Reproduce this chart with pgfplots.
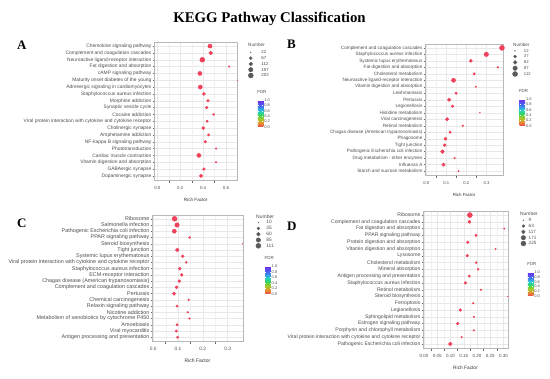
\documentclass[border=0pt]{standalone}
\usepackage{fontspec}
\setmainfont{Liberation Sans}
\newfontfamily\serifbold{Liberation Serif}
\usepackage{pgfplots}
\pgfplotsset{compat=1.18}
\usepackage{pgfplotstable}

\definecolor{ptred}{RGB}{240,65,90}
\definecolor{legdark}{RGB}{90,90,90}
\definecolor{tickgray}{RGB}{77,77,77}
\definecolor{gridgray}{RGB}{232,232,232}
\newcommand{\fs}[1]{\fontsize{#1}{#1}\selectfont}

\pgfplotstableread[col sep=comma]{
idx,rf,num,name
1,0.460,137,Chemokine signaling pathway
2,0.466,114,Complement and coagulation cascades
3,0.393,202,Neuroactive ligand-receptor interaction
4,0.627,30,Fat digestion and absorption
5,0.372,137,cAMP signaling pathway
6,0.700,22,Maturity onset diabetes of the young
7,0.375,137,Adrenergic signaling in cardiomyocytes
8,0.407,76,Staphylococcus aureus infection
9,0.442,61,Morphine addiction
10,0.431,61,Synaptic vesicle cycle
11,0.492,38,Cocaine addiction
12,0.434,49,Viral protein interaction with cytokine and cytokine receptor
13,0.401,76,Cholinergic synapse
14,0.448,49,Amphetamine addiction
15,0.419,61,NF-kappa B signaling pathway
16,0.513,30,Phototransduction
17,0.363,137,Cardiac muscle contraction
18,0.513,30,Vitamin digestion and absorption
19,0.407,61,GABAergic synapse
20,0.381,95,Dopaminergic synapse
}\dataA

\pgfplotstableread[col sep=comma]{
idx,rf,num,name
1,0.377,112,Complement and coagulation cascades
2,0.299,90,Staphylococcus aureus infection
3,0.222,42,Systemic lupus erythematosus
4,0.356,17,Fat digestion and absorption
5,0.239,27,Cholesterol metabolism
6,0.136,76,Neuroactive ligand-receptor interaction
7,0.247,14,Vitamin digestion and absorption
8,0.149,27,Leishmaniasis
9,0.114,52,Pertussis
10,0.131,34,Legionellosis
11,0.267,12,Histidine metabolism
12,0.104,52,Viral carcinogenesis
13,0.182,17,Retinol metabolism
14,0.119,27,Chagas disease (American trypanosomiasis)
15,0.096,42,Phagosome
16,0.092,42,Tight junction
17,0.081,63,Pathogenic Escherichia coli infection
18,0.141,17,Drug metabolism - other enzymes
19,0.086,52,Influenza A
20,0.161,14,Starch and sucrose metabolism
}\dataB

\pgfplotstableread[col sep=comma]{
idx,rf,num,name
1,0.086,111,Ribosome
2,0.096,89,Salmonella infection
3,0.085,75,Pathogenic Escherichia coli infection
4,0.147,19,PPAR signaling pathway
5,0.360,10,Steroid biosynthesis
6,0.097,62,Tight junction
7,0.119,32,Systemic lupus erythematosus
8,0.133,19,Viral protein interaction with cytokine and cytokine receptor
9,0.107,40,Staphylococcus aureus infection
10,0.115,32,ECM-receptor interaction
11,0.105,32,Chagas disease (American trypanosomiasis)
12,0.094,40,Complement and coagulation cascades
13,0.084,50,Pertussis
14,0.143,15,Chemical carcinogenesis
15,0.096,25,Relaxin signaling pathway
16,0.139,15,Nicotine addiction
17,0.146,15,Metabolism of xenobiotics by cytochrome P450
18,0.096,25,Amoebiasis
19,0.093,25,Viral myocarditis
20,0.098,25,Antigen processing and presentation
}\dataC

\pgfplotstableread[col sep=comma]{
idx,rf,num,name
1,0.173,225,Ribosome
2,0.171,74,Complement and coagulation cascades
3,0.303,13,Fat digestion and absorption
4,0.196,41,PPAR signaling pathway
5,0.165,57,Protein digestion and absorption
6,0.270,13,Vitamin digestion and absorption
7,0.163,57,Lysosome
8,0.197,28,Cholesterol metabolism
9,0.204,28,Mineral absorption
10,0.171,41,Antigen processing and presentation
11,0.156,57,Staphylococcus aureus infection
12,0.215,19,Retinol metabolism
13,0.316,9,Steroid biosynthesis
14,0.186,19,Ferroptosis
15,0.137,57,Legionellosis
16,0.188,19,Sphingolipid metabolism
17,0.127,57,Estrogen signaling pathway
18,0.188,19,Porphyrin and chlorophyll metabolism
19,0.142,19,Viral protein interaction with cytokine and cytokine receptor
20,0.099,119,Pathogenic Escherichia coli infection
}\dataD

\pgfplotsset{
  colormap={fdrbase}{rgb255(0)=(240,70,80) rgb255(0.15)=(225,150,45) rgb255(0.3)=(160,205,40) rgb255(0.45)=(50,215,90) rgb255(0.6)=(40,205,215) rgb255(0.8)=(70,100,240) rgb255(1)=(115,45,230)},
  colormap={fdr}{samples of colormap={60 of fdrbase}},
  kegg/.style={
    scale only axis, anchor=north west,
    colorbar, colormap name=fdr,
    y dir=reverse, ymin=0.4, ymax=20.6, ytick={1,...,20},
    grid=major, minor x tick num=1, xminorgrids=true,
    major grid style={gridgray, line width=0.35pt},
    minor grid style={gridgray!55, line width=0.25pt},
    axis line style={draw=black!28, line width=0.45pt},
    tick align=outside, xtick pos=bottom, ytick pos=left,
    major tick length=1.4pt, tick style={black!60, line width=0.3pt},
    point meta min=0, point meta max=1,
    legend cell align=left,
    legend style={anchor=north west, draw=none, fill=none, inner sep=0pt, row sep=0pt,
      nodes={inner sep=0.3pt, text height=4pt, text depth=1.2pt, text=tickgray}},
    xlabel={Rich Factor},
    xlabel style={at={(axis description cs:0.5,0)}, anchor=center, yshift=-19.5pt, text=black!80},
    xticklabel style={text=tickgray, inner sep=1pt, yshift=-3.8pt, /pgf/number format/fixed, /pgf/number format/fixed zerofill, /pgf/number format/precision=1, /pgf/number format/assume math mode=true},
    yticklabel style={text=tickgray, inner sep=1pt},
    colorbar style={at={(parent axis.north east)}, anchor=north west, width=5.5pt, scale only axis,
      ytick={0,0.2,0.4,0.6,0.8,1},
      yticklabel style={font=\fs{4}, text=tickgray, inner sep=0.8pt, /pgf/number format/fixed, /pgf/number format/fixed zerofill, /pgf/number format/precision=1, /pgf/number format/assume math mode=true},
      major tick length=1.2pt, tick align=inside, tick style={white, line width=0.3pt},
      axis line style={draw=none},
      title={FDR}, title style={font=\fs{4.4}, text=tickgray, at={(0,1)}, anchor=south west, inner sep=0.3pt, xshift=-1pt}},
  },
  legdot/.style 2 args={only marks, mark=*, legdark, mark size=#1,
    legend image code/.code={\path (0pt,0pt) (#2,0pt);\draw[mark repeat=2,mark phase=2,##1] plot coordinates {(0pt,0pt) (3.5pt,0pt) (#2,0pt)};}},
  pts/.style={forget plot, only marks, mark=*, ptred, scatter, point meta=0,
    scatter/use mapped color={draw=ptred, fill=ptred}}
}

\begin{document}
\begin{tikzpicture}
\useasboundingbox (0,0) rectangle (550pt,379pt);
\node[anchor=base, font=\serifbold\bfseries\fs{14.8}] at (269.5pt,356.3pt) {KEGG Pathway Classification};
\node[anchor=base west, inner sep=0pt, font=\serifbold\bfseries\fs{13}] at (17pt,329pt) {A};
\node[anchor=base west, inner sep=0pt, font=\serifbold\bfseries\fs{13}] at (287pt,330pt) {B};
\node[anchor=base west, inner sep=0pt, font=\serifbold\bfseries\fs{13}] at (17pt,151pt) {C};
\node[anchor=base west, inner sep=0pt, font=\serifbold\bfseries\fs{13}] at (287pt,148pt) {D};

\node[anchor=west, inner sep=0pt, text=tickgray, font=\fs{4.7}] at (248pt,334pt) {Number};
\node[anchor=west, inner sep=0pt, text=tickgray, font=\fs{4.6}] at (513pt,334pt) {Number};
\node[anchor=west, inner sep=0pt, text=tickgray, font=\fs{5}] at (256pt,162.3pt) {Number};
\node[anchor=west, inner sep=0pt, text=tickgray, font=\fs{4.9}] at (520pt,165pt) {Number};

% Panel A
\begin{axis}[kegg, at={(154pt,337pt)}, width=83.5pt, height=138pt,
  xmin=-0.029, xmax=0.70, xtick={0,0.2,0.4,0.6},
  yticklabels from table={\dataA}{name},
  yticklabel style={font=\fs{4.9}}, xticklabel style={font=\fs{4.4}}, xlabel style={font=\fs{4.6}},
  legend style={at={(1.1126,0.9478)}, font=\fs{4.4}},
  colorbar style={xshift=11.8pt, yshift=-58.3pt, height=26.4pt}]
\addplot[pts, visualization depends on={0.4+2.1*sqrt(max(\thisrow{num}-22,0)/180) \as \msize},
  scatter/@pre marker code/.append style={/tikz/mark size=\msize}] table[x=rf, y=idx] {\dataA};
\addlegendimage{legdot={0.4}{13.6pt}}\addlegendentry{22}
\addlegendimage{legdot={0.4+2.1*sqrt(45/180)}{13.6pt}}\addlegendentry{67}
\addlegendimage{legdot={0.4+2.1*sqrt(90/180)}{13.6pt}}\addlegendentry{112}
\addlegendimage{legdot={0.4+2.1*sqrt(135/180)}{13.6pt}}\addlegendentry{157}
\addlegendimage{legdot={2.5}{13.6pt}}\addlegendentry{202}
\end{axis}

% Panel B
\begin{axis}[kegg, at={(425pt,335pt)}, width=78pt, height=131pt,
  xmin=-0.006, xmax=0.382, xtick={0,0.1,0.2,0.3},
  yticklabels from table={\dataB}{name},
  yticklabel style={font=\fs{4.65}}, xticklabel style={font=\fs{4.2}}, xlabel style={font=\fs{4.4}},
  legend style={at={(1.105,0.9718)}, font=\fs{4.2}},
  colorbar style={xshift=8pt, yshift=-55pt, height=26.7pt}]
\addplot[pts, visualization depends on={0.4+2.1*sqrt(max(\thisrow{num}-12,0)/100) \as \msize},
  scatter/@pre marker code/.append style={/tikz/mark size=\msize}] table[x=rf, y=idx] {\dataB};
\addlegendimage{legdot={0.4}{11.9pt}}\addlegendentry{12}
\addlegendimage{legdot={0.4+2.1*sqrt(0.25)}{11.9pt}}\addlegendentry{37}
\addlegendimage{legdot={0.4+2.1*sqrt(0.5)}{11.9pt}}\addlegendentry{62}
\addlegendimage{legdot={0.4+2.1*sqrt(0.75)}{11.9pt}}\addlegendentry{87}
\addlegendimage{legdot={2.5}{11.9pt}}\addlegendentry{112}
\end{axis}

% Panel C
\begin{axis}[kegg, at={(152pt,164pt)}, width=91pt, height=126pt,
  xmin=-0.005, xmax=0.362, xtick={0,0.1,0.2,0.3},
  yticklabels from table={\dataC}{name},
  yticklabel style={font=\fs{5.4}}, xticklabel style={font=\fs{4.8}}, xlabel style={font=\fs{5}},
  legend style={at={(1.1264,0.9643)}, font=\fs{4.8}},
  colorbar style={xshift=13.7pt, yshift=-51.3pt, height=27.7pt}]
\addplot[pts, visualization depends on={0.4+2.1*sqrt(max(\thisrow{num}-10,0)/101) \as \msize},
  scatter/@pre marker code/.append style={/tikz/mark size=\msize}] table[x=rf, y=idx] {\dataC};
\addlegendimage{legdot={0.4}{11pt}}\addlegendentry{10}
\addlegendimage{legdot={0.4+2.1*sqrt(25/101)}{11pt}}\addlegendentry{35}
\addlegendimage{legdot={0.4+2.1*sqrt(50/101)}{11pt}}\addlegendentry{60}
\addlegendimage{legdot={0.4+2.1*sqrt(75/101)}{11pt}}\addlegendentry{85}
\addlegendimage{legdot={2.5}{11pt}}\addlegendentry{111}
\end{axis}

% Panel D
\begin{axis}[kegg, at={(423pt,168pt)}, width=85pt, height=137pt,
  xmin=-0.004, xmax=0.317, xtick={0,0.05,0.10,0.15,0.20,0.25,0.30},
  xticklabel style={font=\fs{4.5}, /pgf/number format/precision=2},
  yticklabels from table={\dataD}{name},
  yticklabel style={font=\fs{5.1}}, xlabel style={font=\fs{4.8}},
  legend style={at={(1.1353,0.9547)}, font=\fs{4.6}},
  colorbar style={xshift=11.3pt, yshift=-61.3pt, height=23.4pt}]
\addplot[pts, visualization depends on={0.4+2.1*sqrt(max(\thisrow{num}-9,0)/216) \as \msize},
  scatter/@pre marker code/.append style={/tikz/mark size=\msize}] table[x=rf, y=idx] {\dataD};
\addlegendimage{legdot={0.4}{8.3pt}}\addlegendentry{9}
\addlegendimage{legdot={0.4+2.1*sqrt(0.25)}{8.3pt}}\addlegendentry{63}
\addlegendimage{legdot={0.4+2.1*sqrt(0.5)}{8.3pt}}\addlegendentry{117}
\addlegendimage{legdot={0.4+2.1*sqrt(0.75)}{8.3pt}}\addlegendentry{171}
\addlegendimage{legdot={2.5}{8.3pt}}\addlegendentry{225}
\end{axis}
\end{tikzpicture}
\end{document}
